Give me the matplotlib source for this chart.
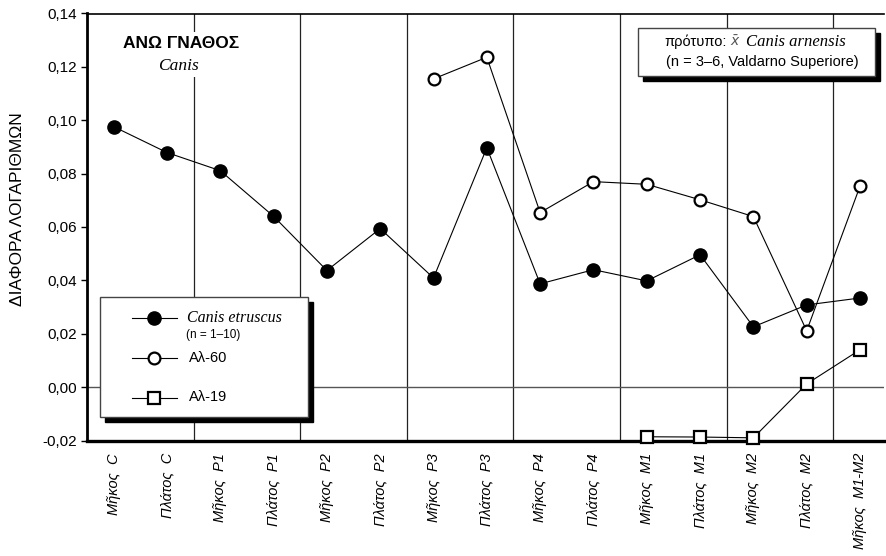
import numpy as np
import matplotlib
matplotlib.use("Agg")
import matplotlib.pyplot as plt
from matplotlib.patches import Rectangle

plt.rcParams['font.family'] = ['Liberation Sans', 'DejaVu Sans']

# data
categories = ["Μῆκος  C", "Πλάτος  C", "Μῆκος  P1", "Πλάτος  P1",
              "Μῆκος  P2", "Πλάτος  P2", "Μῆκος  P3", "Πλάτος  P3",
              "Μῆκος  P4", "Πλάτος  P4", "Μῆκος  M1", "Πλάτος  M1",
              "Μῆκος  M2", "Πλάτος  M2", "Μῆκος  M1-M2"]
nan = np.nan
etruscus = [0.0976, 0.0879, 0.0811, 0.0640, 0.0437, 0.0594, 0.0409, 0.0897,
            0.0387, 0.0440, 0.0398, 0.0496, 0.0226, 0.0308, 0.0334]
al60 = [nan, nan, nan, nan, nan, nan, 0.1155, 0.1236,
        0.0654, 0.0770, 0.0760, 0.0702, 0.0639, 0.0211, 0.0753]
al19 = [nan, nan, nan, nan, nan, nan, nan, nan,
        nan, nan, -0.0186, -0.0187, -0.0190, 0.0012, 0.0140]
yticks = [-0.02, 0.00, 0.02, 0.04, 0.06, 0.08, 0.10, 0.12, 0.14]
ytick_labels = ["-0,02", "0,00", "0,02", "0,04", "0,06", "0,08", "0,10",
                "0,12", "0,14"]

W, H = 886, 556
fig = plt.figure(figsize=(W / 100, H / 100), dpi=100)
L, R, T, B = 87, 884, 13.5, 440.5
ax = fig.add_axes([L / W, 1 - B / H, (R - L) / W, (B - T) / H])

x = np.arange(len(categories))
ax.set_xlim(-0.5, 14.45)
ax.set_ylim(-0.02, 0.14)

# separators between measurement pairs and zero line
for xv in np.arange(1.5, 14, 2):
    ax.axvline(xv, color='#222222', lw=0.9, zorder=1)
ax.axhline(0, color='#555555', lw=1.0, zorder=1)

ax.plot(x, etruscus, color='black', lw=0.8, marker='o', ms=9.5,
        mfc='black', mec='black', zorder=3, clip_on=False)
ax.plot(x, al60, color='black', lw=0.8, marker='o', ms=8.5,
        mfc='white', mec='black', mew=1.6, zorder=3, clip_on=False)
ax.plot(x, al19, color='black', lw=0.8, marker='s', ms=8.5,
        mfc='white', mec='black', mew=1.6, zorder=4, clip_on=False)

ax.set_yticks(yticks)
ax.set_yticklabels(ytick_labels, fontsize=11)
ax.set_xticks(x)
ax.set_xticklabels(categories, rotation=90, fontsize=10.5, style='italic',
                   va='top', ha='center')
ax.tick_params(axis='x', length=0, pad=9)
ax.tick_params(axis='y', length=4, width=1, direction='out', pad=3)
ax.spines['right'].set_visible(False)
ax.spines['top'].set_linewidth(1.2)
ax.spines['left'].set_linewidth(2.0)
ax.spines['bottom'].set_linewidth(2.4)


def fx(px):
    return (px - L) / (R - L)


def fy(py):
    return (B - py) / (B - T)


ax.set_ylabel("ΔΙΑΦΟΡΑ ΛΟΓΑΡΙΘΜΩΝ", fontsize=12.5)
ax.yaxis.set_label_coords(fx(25), fy(209))


def box(x0, y0, x1, y1, off=5):
    sh = Rectangle((fx(x0 + off), fy(y1 + off)), fx(x1) - fx(x0),
                   fy(y0) - fy(y1), transform=ax.transAxes,
                   facecolor='black', edgecolor='black', zorder=5)
    fr = Rectangle((fx(x0), fy(y1)), fx(x1) - fx(x0), fy(y0) - fy(y1),
                   transform=ax.transAxes, facecolor='white',
                   edgecolor='#444444', lw=1.0, zorder=6)
    ax.add_patch(sh)
    ax.add_patch(fr)


# title
ax.text(fx(181), fy(44), "ΑΝΩ ΓΝΑΘΟΣ", transform=ax.transAxes,
        ha='center', va='center', fontsize=12.5, fontweight='bold', zorder=6,
        bbox=dict(facecolor='white', edgecolor='none', pad=3))
ax.text(fx(178), fy(66), "Canis", transform=ax.transAxes, ha='center',
        va='center', fontsize=12.5, style='italic', family='Liberation Serif',
        zorder=6, bbox=dict(facecolor='white', edgecolor='none', pad=2))

# reference box
box(638, 28, 875, 76)
ax.text(fx(727), fy(42), "πρότυπο:", transform=ax.transAxes, ha='right',
        va='center', fontsize=10.5, zorder=7)
ax.text(fx(735), fy(42), r"$\bar{x}$", transform=ax.transAxes, ha='center',
        va='center', fontsize=10, color='#555555', zorder=7)
ax.text(fx(746), fy(42), "Canis arnensis", transform=ax.transAxes,
        ha='left', va='center', fontsize=12, style='italic',
        family='Liberation Serif', zorder=7)
ax.text(fx(762), fy(62), "(n = 3–6, Valdarno Superiore)",
        transform=ax.transAxes, ha='center', va='center', fontsize=10.5,
        zorder=7)

# legend
box(100, 297, 308, 417)
rows = [(318, dict(marker='o', ms=9.5, mfc='black', mec='black')),
        (358, dict(marker='o', ms=8.5, mfc='white', mec='black', mew=1.6)),
        (398, dict(marker='s', ms=8.5, mfc='white', mec='black', mew=1.6))]
for py, style in rows:
    ax.plot([fx(132), fx(177)], [fy(py), fy(py)], color='black', lw=0.8,
            transform=ax.transAxes, zorder=7, clip_on=False)
    ax.plot([fx(154)], [fy(py)], transform=ax.transAxes, zorder=8,
            clip_on=False, ls='none', **style)
ax.text(fx(187), fy(318), "Canis etruscus", transform=ax.transAxes,
        ha='left', va='center', fontsize=11.5, style='italic',
        family='Liberation Serif', zorder=8)
ax.text(fx(186), fy(335), "(n = 1–10)", transform=ax.transAxes, ha='left',
        va='center', fontsize=8.5, zorder=8)
ax.text(fx(189), fy(358), "Αλ-60", transform=ax.transAxes, ha='left',
        va='center', fontsize=10.5, zorder=8)
ax.text(fx(189), fy(397), "Αλ-19", transform=ax.transAxes, ha='left',
        va='center', fontsize=10.5, zorder=8)

fig.savefig("out.png", dpi=100)
